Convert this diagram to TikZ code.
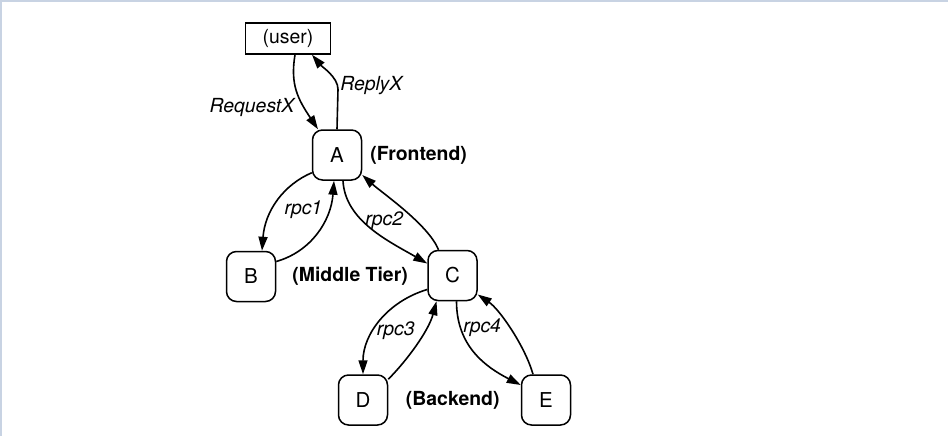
\documentclass[tikz,border=0pt]{standalone}
\usepackage{fontspec}
\setmainfont{TeX Gyre Heros}
\usepackage{tikz}
\usetikzlibrary{positioning}
\usetikzlibrary{arrows.meta}
\definecolor{framegray}{RGB}{200,211,227}

\begin{document}
\fontsize{19.4}{23}\selectfont
\begin{tikzpicture}[x=1pt, y=-1pt,
  srv/.style={draw, line width=1.5pt, rounded corners=10pt, minimum width=49pt, minimum height=50pt, inner sep=0pt, font=\fontsize{20.5}{24}\selectfont},
  userbox/.style={draw, line width=1.5pt, minimum width=85pt, minimum height=31pt, inner sep=0pt},
  tier/.style={font=\bfseries, inner sep=0pt},
  lbl/.style={font=\itshape, inner sep=2pt},
  arr/.style={-{Triangle[length=14pt,width=9pt]}, line width=1.6pt}]
  \useasboundingbox (0,0) rectangle (948,436);
  \draw[framegray, line width=2pt] (0,1) -- (948,1);
  \draw[framegray, line width=2pt] (1,0) -- (1,436);
  % nodes %
  \node[srv] (a) at (337,155) {A};
  \node[userbox, above=74.5pt of a, xshift=-49pt] (user) {(user)};
  \node[srv, below left=70pt and 35.5pt of a] (b) {B};
  \node[srv, below right=69pt and 65pt of a] (c) {C};
  \node[srv, below left=73pt and 39pt of c] (d) {D};
  \node[srv, below right=73pt and 43pt of c] (e) {E};
  \node[tier, right=8pt of a] (front) {(Frontend)};
  \node[tier, right=16pt of b] (middle) {(Middle Tier)};
  \node[tier, right=17.5pt of d] (back) {(Backend)};
  % edges %
  \draw[arr] ([xshift=7pt]user.south) .. controls +(-5,30) and +(-20,-30) .. node[lbl, pos=0.72, left, xshift=-7pt] {RequestX} ([xshift=-19pt]a.north);
  \draw[arr] (a.north) -- ++(1,-40) .. controls +(0,-12) and +(10,12) .. node[lbl, pos=0.1, right] {ReplyX} ([xshift=24pt]user.south);
  \draw[arr] ([yshift=8pt]a.south west) .. controls +(-28,12) and +(3,-40) .. node[lbl, pos=0.6, right, xshift=9pt] {rpc1} ([xshift=11pt]b.north);
  \draw[arr] ([yshift=15pt]b.east) .. controls +(35,-10) and +(-3,40) .. ([xshift=-3pt]a.south);
  \draw[arr] ([xshift=6pt]a.south) .. controls +(2,40) and +(-38,-22) .. node[lbl, pos=0.4, right] {rpc2} ([yshift=12pt]c.west);
  \draw[arr] ([xshift=-14pt]c.north) .. controls +(-10,-25) and +(20,18) .. ([yshift=-20pt]a.east);
  \draw[arr] ([yshift=-14pt]c.west) .. controls +(-40,12) and +(0,-40) .. node[lbl, pos=0.6, right] {rpc3} (d.north);
  \draw[arr] ([yshift=-5pt]d.north east) .. controls +(18,-18) and +(-8,30) .. ([xshift=-16pt]c.south);
  \draw[arr] ([xshift=4pt]c.south) .. controls +(0,45) and +(-35,-18) .. node[lbl, pos=0.22, right] {rpc4} ([yshift=15pt]e.west);
  \draw[arr] ([xshift=-13pt]e.north) .. controls +(-8,-28) and +(22,15) .. ([yshift=-19pt]c.east);
\end{tikzpicture}
\end{document}
